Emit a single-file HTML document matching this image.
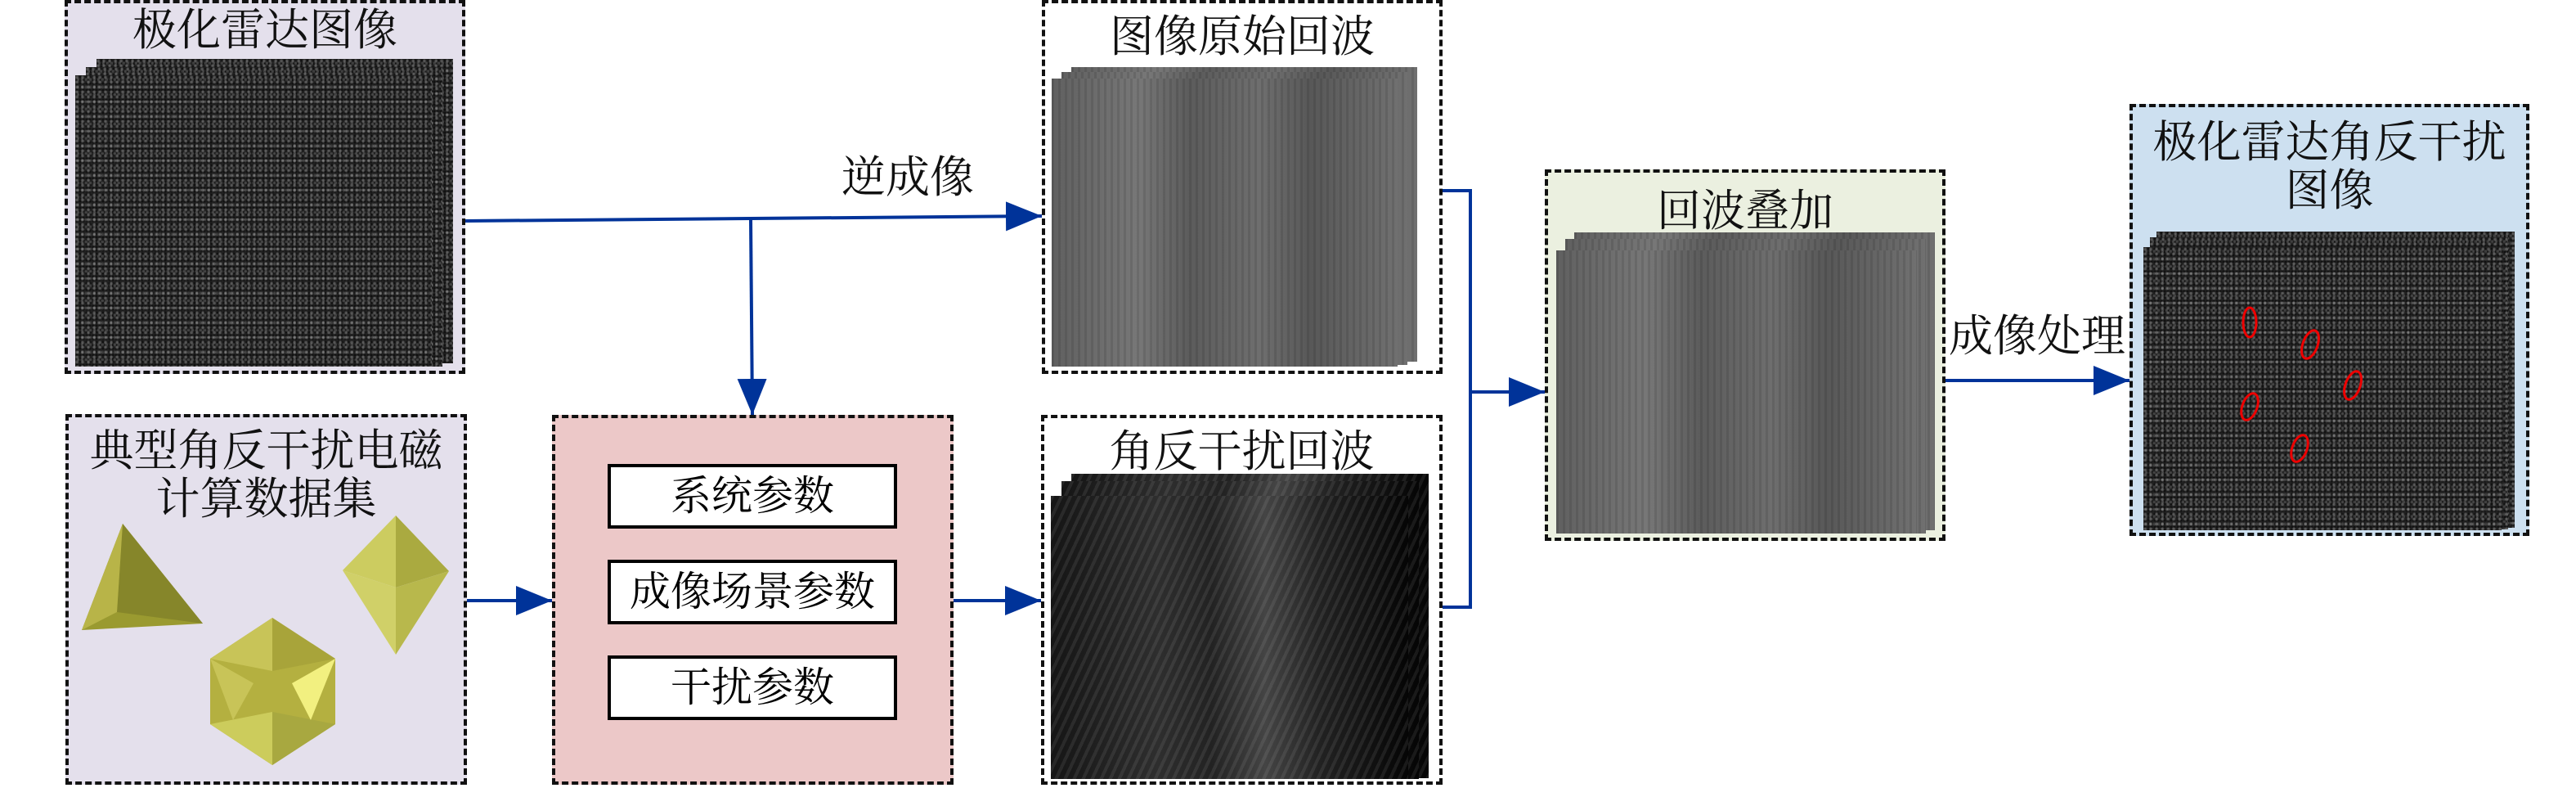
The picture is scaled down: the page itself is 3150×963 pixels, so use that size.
<!DOCTYPE html>
<html><head><meta charset="utf-8"><style>
body{margin:0;width:3150px;height:963px;background:#fff;position:relative;overflow:hidden;font-family:"Liberation Serif","Noto Serif CJK SC","Noto Sans CJK SC",serif;}
.box{position:absolute;border:4px dashed #111;box-sizing:border-box;}
.t{position:absolute;left:0;right:0;text-align:center;font-size:54px;color:#111;line-height:1.1;}
.img{position:absolute;}
.ib{position:absolute;border:4px solid #000;background:#fff;box-sizing:border-box;text-align:center;font-size:50px;line-height:70px;}
.noise{background-color:#222;background-image:radial-gradient(circle at 30% 40%,rgba(255,255,255,.28) 1px,transparent 2.5px),radial-gradient(circle at 70% 60%,rgba(255,255,255,.18) 1px,transparent 2.5px),radial-gradient(circle,rgba(0,0,0,.5) 1px,transparent 2px);background-size:7px 6px,5px 9px,4px 4px;}
.echo{background-color:#686868;background-image:repeating-linear-gradient(90deg,rgba(0,0,0,.1) 0 3px,transparent 3px 8px),linear-gradient(90deg,#606060,#777 25%,#5c5c5c 40%,#6e6e6e 60%,#585858 75%,#707070);}
.jam{background-color:#1a1a1a;background-image:repeating-linear-gradient(115deg,rgba(255,255,255,.08) 0 4px,transparent 4px 10px),linear-gradient(90deg,#151515,#2e2e2e 30%,#222 45%,#444 60%,#222 75%,#050505);}
</style></head><body>

<div class="box" style="left:79px;top:0;width:490px;height:457px;background:#e4e0ec;">
<div class="t" style="top:4px">极化雷达图像</div></div>
<div class="img noise" style="left:118px;top:72px;width:436px;height:372px;"></div>
<div class="img noise" style="left:105px;top:82px;width:436px;height:366px;"></div>
<div class="img noise" style="left:92px;top:92px;width:436px;height:356px;"></div>

<div class="box" style="left:80px;top:506px;width:491px;height:453px;background:#e4e0ec;">
<div class="t" style="top:12px">典型角反干扰电磁<br>计算数据集</div></div>

<div class="box" style="left:675px;top:507px;width:491px;height:452px;background:#ecc8c8;"></div>
<div class="ib" style="left:743px;top:567px;width:354px;height:79px;">系统参数</div>
<div class="ib" style="left:743px;top:684px;width:354px;height:79px;">成像场景参数</div>
<div class="ib" style="left:743px;top:801px;width:354px;height:79px;">干扰参数</div>

<div class="box" style="left:1274px;top:0;width:490px;height:457px;background:#fff;">
<div class="t" style="top:12px">图像原始回波</div></div>
<div class="img echo" style="left:1310px;top:82px;width:423px;height:360px;"></div>
<div class="img echo" style="left:1298px;top:88px;width:423px;height:358px;"></div>
<div class="img echo" style="left:1286px;top:96px;width:423px;height:352px;"></div>

<div class="box" style="left:1273px;top:507px;width:491px;height:452px;background:#fff;">
<div class="t" style="top:12px">角反干扰回波</div></div>
<div class="img jam" style="left:1310px;top:579px;width:437px;height:372px;"></div>
<div class="img jam" style="left:1298px;top:588px;width:437px;height:364px;"></div>
<div class="img jam" style="left:1285px;top:606px;width:437px;height:346px;"></div>

<div class="box" style="left:1889px;top:207px;width:490px;height:454px;background:#ebf0e0;">
<div class="t" style="top:18px">回波叠加</div></div>
<div class="img echo" style="left:1925px;top:284px;width:441px;height:364px;"></div>
<div class="img echo" style="left:1914px;top:292px;width:441px;height:360px;"></div>
<div class="img echo" style="left:1903px;top:306px;width:441px;height:346px;"></div>

<div class="box" style="left:2604px;top:127px;width:489px;height:528px;background:#cde0f0;">
<div class="t" style="top:14px">极化雷达角反干扰<br>图像</div></div>
<div class="img noise" style="left:2637px;top:283px;width:438px;height:362px;"></div>
<div class="img noise" style="left:2629px;top:290px;width:438px;height:357px;"></div>
<div class="img noise" style="left:2621px;top:302px;width:438px;height:346px;"></div>

<div class="t" style="position:absolute;left:1015px;top:188px;width:190px;right:auto;">逆成像</div>
<div class="t" style="position:absolute;left:2376px;top:382px;width:230px;right:auto;">成像处理</div>

<svg style="position:absolute;left:0;top:0" width="3150" height="963">
<defs><marker id="a" markerWidth="44" markerHeight="36" refX="44" refY="18" orient="auto" markerUnits="userSpaceOnUse" viewBox="0 0 44 36"><path d="M0,0L44,18L0,36z" fill="#003399"/></marker></defs>
<polygon points="150,640 100,770 248,762" fill="#9a9a30"/><polygon points="150,640 143,748 248,762" fill="#86862a"/><polygon points="150,640 100,770 143,748" fill="#b8b448"/>
<polygon points="484,630 419,697 484,718" fill="#cccc60"/><polygon points="484,630 549,698 484,718" fill="#aaaa40"/><polygon points="419,697 484,800 484,718" fill="#d0d068"/><polygon points="549,698 484,800 484,718" fill="#b8b84c"/>
<polygon points="333,755 257,805 257,885 333,935 410,885 410,805" fill="#b4b040"/><polygon points="333,755 257,805 333,820" fill="#c8c458"/><polygon points="333,755 410,805 333,820" fill="#a8a43a"/><polygon points="257,885 333,935 333,870" fill="#cccc5c"/><polygon points="410,885 333,935 333,870" fill="#a8a840"/><polygon points="357,835 410,805 380,880" fill="#f2f080"/><polygon points="310,835 257,805 285,880" fill="#c8c458"/>
<g stroke="#003399" stroke-width="4" fill="none">
<path d="M569,270 L1274,264" marker-end="url(#a)"/>
<path d="M918,267 L920,507" marker-end="url(#a)"/>
<path d="M571,734 L675,734" marker-end="url(#a)"/>
<path d="M1166,734 L1273,734" marker-end="url(#a)"/>
<path d="M1764,233 L1798,233 L1798,742 L1764,742"/>
<path d="M1798,479 L1889,479" marker-end="url(#a)"/>
<path d="M2379,465 L2604,465" marker-end="url(#a)"/>
</g>
<g stroke="#e00" stroke-width="3" fill="none">
<ellipse cx="2751" cy="394" rx="8" ry="18"/>
<ellipse cx="2825" cy="421" rx="9" ry="18" transform="rotate(20 2825 421)"/>
<ellipse cx="2877" cy="471" rx="9" ry="18" transform="rotate(20 2877 471)"/>
<ellipse cx="2751" cy="497" rx="9" ry="17" transform="rotate(20 2751 497)"/>
<ellipse cx="2812" cy="548" rx="9" ry="17" transform="rotate(20 2812 548)"/>
</g>
</svg>
</body></html>
